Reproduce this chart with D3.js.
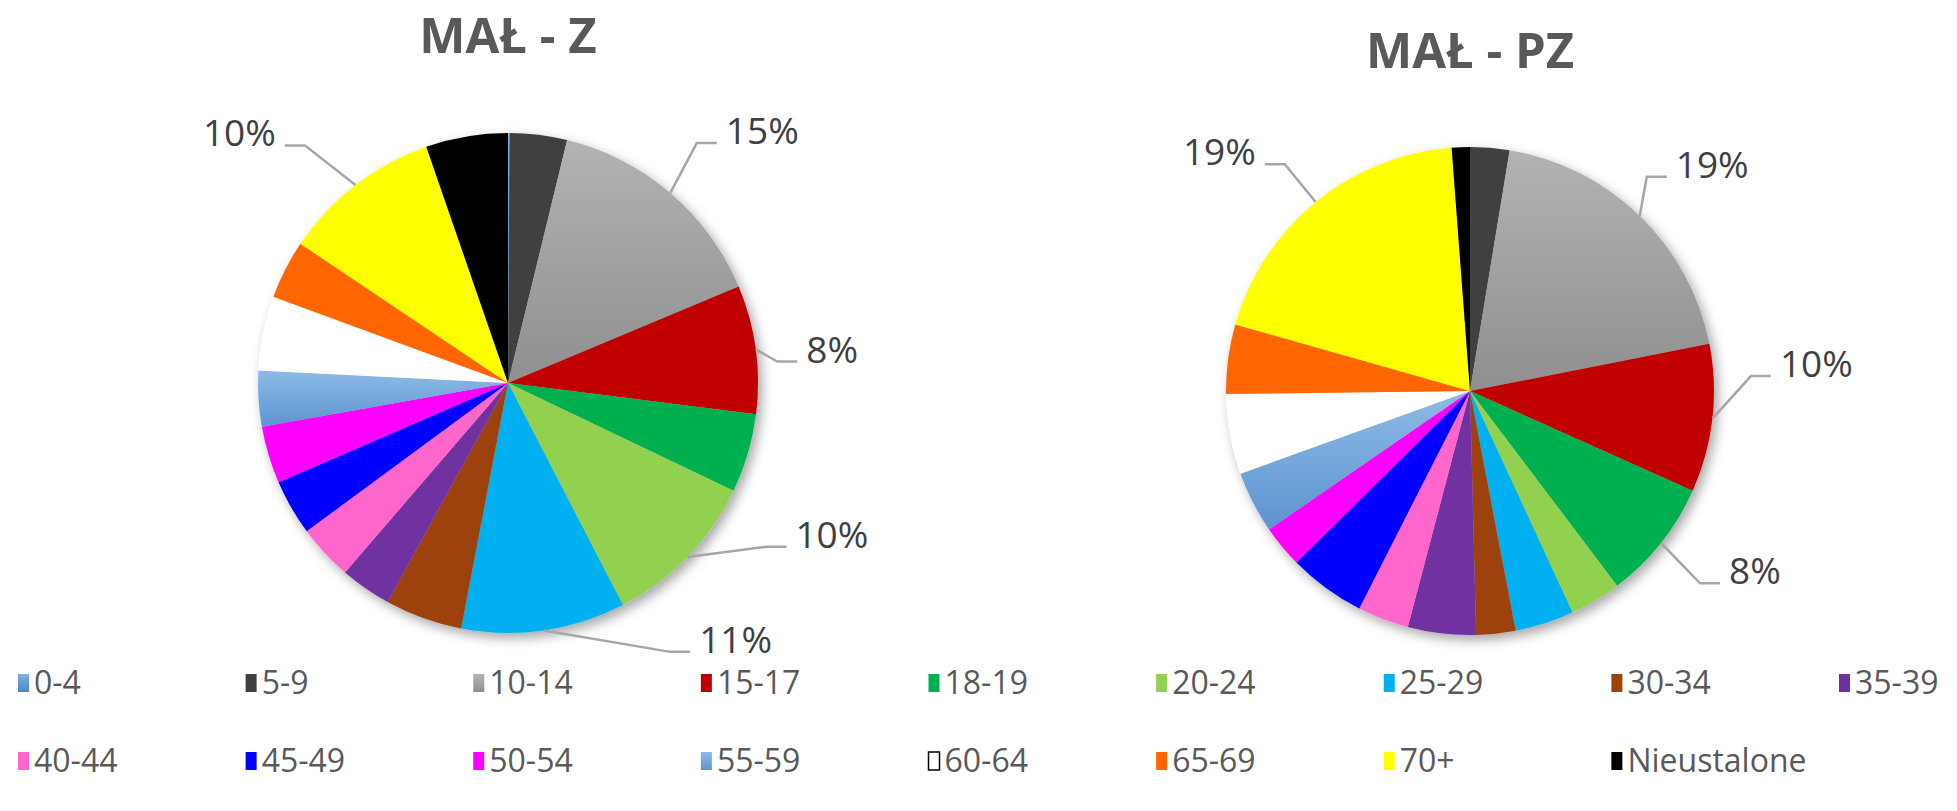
<!DOCTYPE html>
<html>
<head>
<meta charset="utf-8">
<script src="https://cdn.jsdelivr.net/npm/d3@7"></script>
<style>
  body { margin: 0; background: #fff; }
</style>
</head>
<body>
<div id="chart"></div>
<script>
// Settings
const SIZE = [1957, 811]
const FONT = "'Open Sans', 'Noto Sans', sans-serif"

// Data (percent shares)
const categories = ["0-4", "5-9", "10-14", "15-17", "18-19", "20-24", "25-29", "30-34", "35-39",
  "40-44", "45-49", "50-54", "55-59", "60-64", "65-69", "70+", "Nieustalone"]
const colors = ["#5b9bd5", "#404040", "#a6a6a6", "#c00000", "#00b050", "#92d050", "#00b0f0", "#9e4309", "#7030a0",
  "#ff66cc", "#0000ff", "#ff00ff", "#72a7dd", "#ffffff", "#ff6600", "#ffff00", "#000000"]
const valuesZ  = [0.1, 3.7, 14.9, 8.3, 5.1, 10.3, 10.6, 5.0, 3.3, 3.6, 3.6, 3.7, 3.6, 4.8, 3.8, 10.3, 5.3]
const valuesPZ = [0, 2.6, 19.3, 9.8, 8.0, 3.4, 3.9, 2.6, 4.5, 3.4, 5.1, 2.8, 4.1, 5.3, 4.6, 19.4, 1.2]
const titles = ["MAŁ - Z", "MAŁ - PZ"]

// Layout of the two pies (Excel put each in its own plot area)
const PIES = [
  {id: "z", title: titles[0], values: valuesZ, cx: 508, cy: 383, r: 250, titleY: 53,
   // hand nudges for the leader-line elbows, like Excel's moved labels
   nudge: {"10-14": [-6, -12], "15-17": [-28, 19], "20-24": [43, -45], "25-29": [119, -28], "70+": [-20, 0]}},
  {id: "pz", title: titles[1], values: valuesPZ, cx: 1470, cy: 391, r: 244, titleY: 68,
   nudge: {"10-14": [-27, -4], "15-17": [-10, -48], "18-19": [1, 10], "70+": [0, 0]}}
]
const LABEL_MIN = 7.5
const GRADIENTS = {"10-14": ["#b3b3b3", "#8f8f8f"], "55-59": ["#8dbbe6", "#5d94cf"], "0-4": ["#7fb1e3", "#4a86c6"]}

const svg = d3.select("#chart").append("svg")
  .attr("width", SIZE[0])
  .attr("height", SIZE[1])
  .style("font-family", FONT)

svg.append("rect").attr("width", SIZE[0]).attr("height", SIZE[1]).attr("fill", "#fff")

const defs = svg.append("defs")
defs.append("filter")
    .attr("id", "pieShadow")
    .attr("x", "-20%").attr("y", "-20%").attr("width", "140%").attr("height", "140%")
  .append("feDropShadow")
    .attr("dx", 4).attr("dy", 5)
    .attr("stdDeviation", 6)
    .attr("flood-color", "#000")
    .attr("flood-opacity", 0.35)

for (const [cat, stops] of Object.entries(GRADIENTS)) {
  const g = defs.append("linearGradient")
    .attr("id", "grad-" + cat)
    .attr("x1", 0).attr("y1", 0).attr("x2", 0).attr("y2", 1)
  g.append("stop").attr("offset", 0).attr("stop-color", stops[0])
  g.append("stop").attr("offset", 1).attr("stop-color", stops[1])
}

const fillFor = (cat, i) => GRADIENTS[cat] ? `url(#grad-${cat})` : colors[i]

const pie = d3.pie().sort(null).value(d => d.value)

function drawPie(cfg) {
  const data = categories.map((c, i) => ({cat: c, value: cfg.values[i], i: i}))
  const arcs = pie(data)
  const arc = d3.arc().innerRadius(0).outerRadius(cfg.r)
  const edge = d3.arc().innerRadius(cfg.r).outerRadius(cfg.r)
  const outer = d3.arc().innerRadius(cfg.r * 1.2).outerRadius(cfg.r * 1.2)

  const g = svg.append("g")
    .attr("id", `${cfg.id}-pie`)
    .attr("transform", `translate(${cfg.cx},${cfg.cy})`)

  g.append("g")
      .attr("filter", "url(#pieShadow)")
    .selectAll("path")
    .data(arcs.filter(d => d.value > 0))
    .join("path")
      .attr("d", arc)
      .attr("fill", d => fillFor(d.data.cat, d.data.i))

  // labels with leader lines, only the big slices carry one
  const labelled = arcs.filter(d => d.value >= LABEL_MIN)
  const points = labelled.map(d => {
    const mid = (d.startAngle + d.endAngle) / 2
    const side = mid < Math.PI ? 1 : -1
    const n = cfg.nudge[d.data.cat] || [0, 0]
    const p0 = edge.centroid(d)
    const o = outer.centroid(d)
    const p1 = [o[0] + n[0], o[1] + n[1]]
    const p2 = [p1[0] + side * 20, p1[1]]
    return {d, side, pts: [p0, p1, p2]}
  })

  g.append("g")
    .selectAll("polyline")
    .data(points)
    .join("polyline")
      .attr("points", p => p.pts.map(q => q.join(",")).join(" "))
      .attr("fill", "none")
      .attr("stroke", "#a6a6a6")
      .attr("stroke-width", 2.5)

  g.append("g")
    .selectAll("text")
    .data(points)
    .join("text")
      .attr("x", p => p.pts[2][0] + p.side * 9)
      .attr("y", p => p.pts[2][1] + 1)
      .attr("text-anchor", p => p.side > 0 ? "start" : "end")
      .attr("font-size", 37)
      .attr("fill", "#404040")
      .text(p => Math.round(p.d.data.value) + "%")

  svg.append("text")
    .attr("x", cfg.cx)
    .attr("y", cfg.titleY)
    .attr("text-anchor", "middle")
    .attr("font-size", 49)
    .attr("font-weight", "bold")
    .attr("fill", "#595959")
    .text(cfg.title)
}

PIES.forEach(drawPie)

// Legend: two rows, nine columns
const PER_ROW = 9
const colX = d3.scaleLinear().domain([0, PER_ROW - 1]).range([18, 1839])
const rowY = d3.scaleLinear().domain([0, 1]).range([683, 761])

const legend = svg.append("g").attr("id", "legend")
  .selectAll("g")
  .data(categories)
  .join("g")
    .attr("transform", (d, i) => `translate(${colX(i % PER_ROW)},${rowY(Math.floor(i / PER_ROW))})`)

legend.append("rect")
  .attr("x", 0)
  .attr("y", -9)
  .attr("width", 11)
  .attr("height", 18)
  .attr("fill", (d, i) => fillFor(d, i))
  .attr("stroke", d => d === "60-64" ? "#000" : "none")
  .attr("stroke-width", 1.5)

legend.append("text")
  .attr("x", 16)
  .attr("y", 0)
  .attr("dy", "0.35em")
  .attr("font-size", 32)
  .attr("fill", "#595959")
  .text(d => d)
</script>
</body>
</html>
